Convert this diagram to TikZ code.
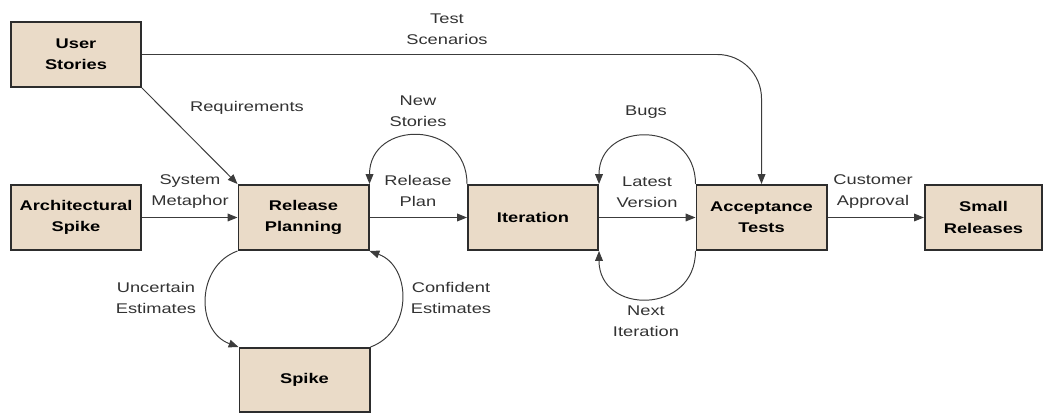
\documentclass[tikz,border=0pt]{standalone}
\usepackage{fontspec}
\setmainfont{Liberation Sans}[FakeStretch=1.3]
\usepackage{tikz}
\usetikzlibrary{arrows.meta}
\definecolor{tanFill}{RGB}{234,219,200}
\definecolor{darkLine}{RGB}{45,45,45}
\definecolor{lineGrey}{RGB}{60,60,60}
\definecolor{textGrey}{RGB}{50,50,50}

\begin{document}
\begin{tikzpicture}[
    x=0.025cm, y=0.025cm,
    every node/.style={font=\fontsize{10}{15}\selectfont},
    stage/.style={draw=darkLine, line width=1.4pt, fill=tanFill, minimum width=3.25cm, minimum height=1.625cm, inner sep=0pt, align=center, font=\fontsize{10}{15}\selectfont\bfseries},
    flow/.style={draw=lineGrey, line width=0.7pt, -{Triangle[length=7pt, width=5.5pt]}},
    lbl/.style={align=center, text=textGrey}
]
    \useasboundingbox (0,0) rectangle (1046,414);

    % Etapas (caixas)
    \node[stage] (userstories) at (76, 359.5) {User\\Stories};
    \node[stage] (archspike) at (76, 196.5) {Architectural\\Spike};
    \node[stage] (relplan) at (303.5, 196.5) {Release\\Planning};
    \node[stage] (iteration) at (533, 196.5) {Iteration};
    \node[stage] (acctests) at (761.5, 196.5) {Acceptance\\Tests};
    \node[stage, minimum width=2.93cm] (smallrel) at (983.5, 196.5) {Small\\Releases};
    \node[stage, minimum height=1.6cm] (spike) at (304.5, 34) {Spike};

    % Fluxo principal
    \draw[flow] (archspike) -- (relplan);
    \draw[flow] (relplan) -- (iteration);
    \draw[flow] (iteration) -- (acctests);
    \draw[flow] (acctests) -- (smallrel);
    \draw[flow] (userstories.south east) -- (relplan.north west);
    \draw[flow, rounded corners=1.1cm] (userstories.east) -| (acctests.north);

    % Lacos de retorno
    \draw[flow] (iteration.north west) to[out=90, in=90, looseness=1.7] (relplan.north east);
    \draw[flow] (acctests.north west) to[out=90, in=90, looseness=1.7] (iteration.north east);
    \draw[flow] (acctests.south west) to[out=-90, in=-90, looseness=1.7] (iteration.south east);
    \draw[flow] (relplan.south west) to[out=200, in=160, looseness=1.2] (spike.north west);
    \draw[flow] (spike.north east) to[out=20, in=-20, looseness=1.2] (relplan.south east);

    % Rotulos
    \node[lbl] (testsc) at (447, 385) {Test\\Scenarios};
    \node[lbl] (reqs) at (247, 306) {Requirements};
    \node[lbl] (sysmeta) at (190, 222) {System\\Metaphor};
    \node[lbl] (relplanlbl) at (418, 223) {Release\\Plan};
    \node[lbl] (newst) at (418, 303) {New\\Stories};
    \node[lbl] (bugs) at (646, 302) {Bugs};
    \node[lbl] (latest) at (647, 222) {Latest\\Version};
    \node[lbl] (nextit) at (646, 93) {Next\\Iteration};
    \node[lbl] (custapp) at (873, 222) {Customer\\Approval};
    \node[lbl] (uncert) at (156, 116) {Uncertain\\Estimates};
    \node[lbl] (confid) at (451, 116) {Confident\\Estimates};

\end{tikzpicture}
\end{document}
